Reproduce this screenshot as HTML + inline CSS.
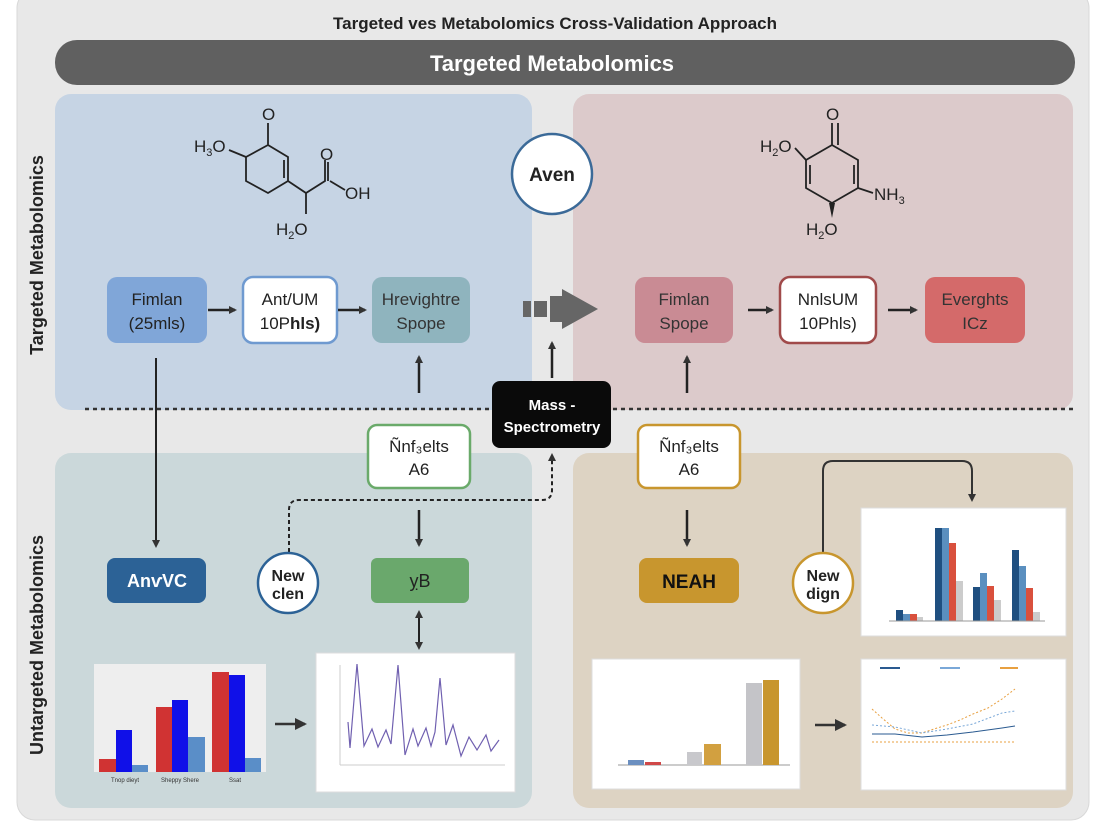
<!DOCTYPE html>
<html><head><meta charset="utf-8"><style>
html,body{margin:0;padding:0;background:#fff}
svg{display:block}
text{font-family:"Liberation Sans",sans-serif}
</style></head><body>
<svg width="1104" height="832" viewBox="0 0 1104 832" xmlns="http://www.w3.org/2000/svg">
<defs>
<marker id="ah" markerWidth="8" markerHeight="8" refX="6" refY="4" orient="auto" markerUnits="userSpaceOnUse"><path d="M0,0 L8,4 L0,8 z" fill="#333"/></marker>
<marker id="ah2" markerWidth="12" markerHeight="12" refX="10" refY="6" orient="auto" markerUnits="userSpaceOnUse"><path d="M0,0 L12,6 L0,12 z" fill="#333"/></marker>
</defs>
<rect x="0" y="0" width="1104" height="832" fill="#fff"/>
<rect x="17" y="-10" width="1072" height="830" rx="18" fill="#e8e8e8" stroke="#d8d8d8"/>
<text x="555" y="29" font-size="17" font-weight="bold" text-anchor="middle" fill="#222">Targeted ves Metabolomics Cross-Validation Approach</text>
<rect x="55" y="40" width="1020" height="45" rx="22" fill="#606060"/>
<text x="552" y="71" font-size="22" font-weight="bold" text-anchor="middle" fill="#fff">Targeted Metabolomics</text>

<rect x="55" y="94" width="477" height="316" rx="16" fill="#c6d4e4"/>
<rect x="573" y="94" width="500" height="316" rx="16" fill="#dccacb"/>
<rect x="55" y="453" width="477" height="355" rx="16" fill="#cbd8da"/>
<rect x="573" y="453" width="500" height="355" rx="16" fill="#ddd3c3"/>
<line x1="85" y1="409" x2="1073" y2="409" stroke="#333" stroke-width="2.5" stroke-dasharray="4,4"/>

<text transform="translate(43,255) rotate(-90)" font-size="18" font-weight="bold" text-anchor="middle" fill="#222">Targeted Metabolomics</text>
<text transform="translate(43,645) rotate(-90)" font-size="18" font-weight="bold" text-anchor="middle" fill="#222">Untargeted Metabolomics</text>

<!-- molecule left -->
<g stroke="#222" stroke-width="1.8" fill="none">
<path d="M268,123 L268,145 L288,157 L288,181 L268,193 L246,181 L246,157 L268,145"/>
<path d="M284,160 L284,178"/>
<path d="M288,181 L306,193 L325,181 L325,160"/>
<path d="M330,181 L345,190"/><path d="M328,162 L328,181"/>
<path d="M306,193 L306,214"/>
<path d="M229,150 L246,157"/>
</g>
<text x="262" y="120" font-size="17" fill="#222">O</text>
<text x="320" y="160" font-size="17" fill="#222">O</text>
<text x="345" y="199" font-size="17" fill="#222">OH</text>
<text x="194" y="152" font-size="17" fill="#222">H<tspan font-size="11" dy="4">3</tspan><tspan dy="-4">O</tspan></text>
<text x="276" y="235" font-size="17" fill="#222">H<tspan font-size="11" dy="4">2</tspan><tspan dy="-4">O</tspan></text>
<!-- molecule right -->
<g stroke="#222" stroke-width="1.8" fill="none">
<path d="M832,123 L832,145 L858,160 L858,188 L832,203 L806,188 L806,160 L832,145"/>
<path d="M838,123 L838,145"/>
<path d="M810,165 L810,184"/><path d="M854,165 L854,184"/>
<path d="M795,148 L806,160"/>
<path d="M858,188 L873,193"/>
</g>
<polygon points="829,203 835,203 832,218" fill="#222"/>
<text x="826" y="120" font-size="17" fill="#222">O</text>
<text x="760" y="152" font-size="17" fill="#222">H<tspan font-size="11" dy="4">2</tspan><tspan dy="-4">O</tspan></text>
<text x="874" y="200" font-size="17" fill="#222">NH<tspan font-size="11" dy="4">3</tspan></text>
<text x="806" y="235" font-size="17" fill="#222">H<tspan font-size="11" dy="4">2</tspan><tspan dy="-4">O</tspan></text>

<circle cx="552" cy="174" r="40" fill="#fff" stroke="#3b6a98" stroke-width="2.5"/>
<text x="552" y="181" font-size="19" font-weight="bold" text-anchor="middle" fill="#222">Aven</text>

<!-- top-left nodes -->
<rect x="107" y="277" width="100" height="66" rx="10" fill="#80a6d8"/>
<text x="157" y="305" font-size="17" text-anchor="middle" fill="#222">Fimlan</text>
<text x="157" y="329" font-size="17" text-anchor="middle" fill="#222">(25mls)</text>
<rect x="243" y="277" width="94" height="66" rx="10" fill="#fff" stroke="#6f9ad0" stroke-width="2.5"/>
<text x="290" y="305" font-size="17" text-anchor="middle" fill="#222">Ant/UM</text>
<text x="290" y="329" font-size="17" text-anchor="middle" fill="#222">10P<tspan font-weight="bold">hls)</tspan></text>
<rect x="372" y="277" width="98" height="66" rx="10" fill="#8fb4be"/>
<text x="421" y="305" font-size="17" text-anchor="middle" fill="#333">Hrevightre</text>
<text x="421" y="329" font-size="17" text-anchor="middle" fill="#333">Spope</text>
<line x1="208" y1="310" x2="235" y2="310" stroke="#222" stroke-width="2.5" marker-end="url(#ah)"/>
<line x1="338" y1="310" x2="365" y2="310" stroke="#222" stroke-width="2.5" marker-end="url(#ah)"/>

<!-- big arrow -->
<rect x="523" y="301" width="8" height="16" fill="#666"/>
<rect x="534" y="301" width="13" height="16" fill="#666"/>
<polygon points="550,296 562,296 562,289 598,309 562,329 562,322 550,322" fill="#666"/>

<!-- top-right nodes -->
<rect x="635" y="277" width="98" height="66" rx="10" fill="#c98b94"/>
<text x="684" y="305" font-size="17" text-anchor="middle" fill="#333">Fimlan</text>
<text x="684" y="329" font-size="17" text-anchor="middle" fill="#333">Spope</text>
<rect x="780" y="277" width="96" height="66" rx="10" fill="#fff" stroke="#a04a4a" stroke-width="2.5"/>
<text x="828" y="305" font-size="17" text-anchor="middle" fill="#222">NnlsUM</text>
<text x="828" y="329" font-size="17" text-anchor="middle" fill="#222">10Phls)</text>
<rect x="925" y="277" width="100" height="66" rx="10" fill="#d46a6a"/>
<text x="975" y="305" font-size="17" text-anchor="middle" fill="#333">Everghts</text>
<text x="975" y="329" font-size="17" text-anchor="middle" fill="#333">ICz</text>
<line x1="748" y1="310" x2="772" y2="310" stroke="#222" stroke-width="2.5" marker-end="url(#ah)"/>
<line x1="888" y1="310" x2="916" y2="310" stroke="#222" stroke-width="2.5" marker-end="url(#ah)"/>

<!-- vertical arrows -->
<line x1="552" y1="378" x2="552" y2="343" stroke="#222" stroke-width="2.5" marker-end="url(#ah)"/>
<line x1="419" y1="393" x2="419" y2="357" stroke="#222" stroke-width="2.5" marker-end="url(#ah)"/>
<line x1="687" y1="393" x2="687" y2="357" stroke="#222" stroke-width="2.5" marker-end="url(#ah)"/>

<rect x="492" y="381" width="119" height="67" rx="8" fill="#0a0a0a"/>
<text x="552" y="410" font-size="15" font-weight="bold" text-anchor="middle" fill="#fff">Mass -</text>
<text x="552" y="432" font-size="15" font-weight="bold" text-anchor="middle" fill="#fff">Spectrometry</text>

<rect x="368" y="425" width="102" height="63" rx="9" fill="#fff" stroke="#6aaa6a" stroke-width="2.5"/>
<text x="419" y="452" font-size="17" text-anchor="middle" fill="#222">Ñnf₃elts</text>
<text x="419" y="475" font-size="17" text-anchor="middle" fill="#222">A6</text>
<rect x="638" y="425" width="102" height="63" rx="9" fill="#fff" stroke="#c8962e" stroke-width="2.5"/>
<text x="689" y="452" font-size="17" text-anchor="middle" fill="#222">Ñnf₃elts</text>
<text x="689" y="475" font-size="17" text-anchor="middle" fill="#222">A6</text>

<line x1="419" y1="510" x2="419" y2="545" stroke="#222" stroke-width="2.5" marker-end="url(#ah)"/>
<line x1="687" y1="510" x2="687" y2="545" stroke="#222" stroke-width="2.5" marker-end="url(#ah)"/>
<line x1="156" y1="358" x2="156" y2="546" stroke="#222" stroke-width="2" marker-end="url(#ah)"/>

<!-- dashed path -->
<path d="M289,552 L289,510 Q289,500 299,500 L542,500 Q552,500 552,490 L552,455" fill="none" stroke="#222" stroke-width="2" stroke-dasharray="4,3" marker-end="url(#ah)"/>
<!-- right path -->
<path d="M823,553 L823,471 Q823,461 833,461 L962,461 Q972,461 972,471 L972,500" fill="none" stroke="#333" stroke-width="2" marker-end="url(#ah)"/>

<rect x="107" y="558" width="99" height="45" rx="8" fill="#2c6296"/>
<text x="157" y="587" font-size="18" font-weight="bold" text-anchor="middle" fill="#fff">AnⱱVC</text>
<circle cx="288" cy="583" r="30" fill="#fff" stroke="#2c6296" stroke-width="2.5"/>
<text x="288" y="581" font-size="16" font-weight="bold" text-anchor="middle" fill="#222">New</text>
<text x="288" y="599" font-size="16" font-weight="bold" text-anchor="middle" fill="#222">clen</text>
<rect x="371" y="558" width="98" height="45" rx="6" fill="#6aa86c"/>
<text x="420" y="587" font-size="18" text-anchor="middle" fill="#222">ỵB</text>
<line x1="419" y1="620" x2="419" y2="648" stroke="#222" stroke-width="2" marker-end="url(#ah)"/>
<line x1="419" y1="625" x2="419" y2="612" stroke="#222" stroke-width="2" marker-end="url(#ah)"/>

<rect x="639" y="558" width="100" height="45" rx="8" fill="#c8962e"/>
<text x="689" y="588" font-size="19" font-weight="bold" text-anchor="middle" fill="#111">NEAH</text>
<circle cx="823" cy="583" r="30" fill="#fff" stroke="#c8962e" stroke-width="2.5"/>
<text x="823" y="581" font-size="16" font-weight="bold" text-anchor="middle" fill="#222">New</text>
<text x="823" y="599" font-size="16" font-weight="bold" text-anchor="middle" fill="#222">dign</text>

<!-- bottom-left bar chart -->
<rect x="94" y="664" width="172" height="108" fill="#eeeeee"/>
<g>
<rect x="99" y="759" width="17" height="13" fill="#d03333"/><rect x="116" y="730" width="16" height="42" fill="#1010e8"/><rect x="132" y="765" width="16" height="7" fill="#5a8ec8"/>
<rect x="156" y="707" width="16" height="65" fill="#d03333"/><rect x="172" y="700" width="16" height="72" fill="#1010e8"/><rect x="188" y="737" width="17" height="35" fill="#5a8ec8"/>
<rect x="212" y="672" width="17" height="100" fill="#d03333"/><rect x="229" y="675" width="16" height="97" fill="#1010e8"/><rect x="245" y="758" width="16" height="14" fill="#5a8ec8"/>
</g>
<text x="125" y="782" font-size="6" text-anchor="middle" fill="#333">Tnop dieyt</text>
<text x="180" y="782" font-size="6" text-anchor="middle" fill="#333">Sheppy Shere</text>
<text x="235" y="782" font-size="6" text-anchor="middle" fill="#333">Ssat</text>
<line x1="275" y1="724" x2="305" y2="724" stroke="#333" stroke-width="2.5" marker-end="url(#ah2)"/>

<!-- line chart -->
<rect x="316" y="653" width="199" height="139" fill="#fff" stroke="#ddd"/>
<polyline points="348,722 350,748 357,664 364,746 372,729 378,747 386,730 391,744 398,665 405,755 413,729 418,746 426,728 431,746 435,732 440,678 446,745 453,725 461,756 469,737 477,750 486,735 491,751 499,740" fill="none" stroke="#7060b0" stroke-width="1.2"/>
<line x1="340" y1="665" x2="340" y2="765" stroke="#ccc"/>
<line x1="340" y1="765" x2="505" y2="765" stroke="#ccc"/>

<!-- right top bar chart -->
<rect x="861" y="508" width="205" height="128" fill="#fff" stroke="#ddd"/>
<g>
<rect x="896" y="610" width="7" height="11" fill="#1f4f80"/><rect x="903" y="614" width="7" height="7" fill="#5a8fbf"/><rect x="910" y="614" width="7" height="7" fill="#d9503d"/><rect x="917" y="617" width="6" height="4" fill="#ccc"/>
<rect x="935" y="528" width="7" height="93" fill="#1f4f80"/><rect x="942" y="528" width="7" height="93" fill="#5a8fbf"/><rect x="949" y="543" width="7" height="78" fill="#d9503d"/><rect x="956" y="581" width="7" height="40" fill="#ccc"/>
<rect x="973" y="587" width="7" height="34" fill="#1f4f80"/><rect x="980" y="573" width="7" height="48" fill="#5a8fbf"/><rect x="987" y="586" width="7" height="35" fill="#d9503d"/><rect x="994" y="600" width="7" height="21" fill="#ccc"/>
<rect x="1012" y="550" width="7" height="71" fill="#1f4f80"/><rect x="1019" y="566" width="7" height="55" fill="#5a8fbf"/><rect x="1026" y="588" width="7" height="33" fill="#d9503d"/><rect x="1033" y="612" width="7" height="9" fill="#ccc"/>
</g>
<line x1="889" y1="621" x2="1045" y2="621" stroke="#999"/>

<!-- right bottom bar chart -->
<rect x="592" y="659" width="208" height="130" fill="#fff" stroke="#ddd"/>
<line x1="618" y1="765" x2="790" y2="765" stroke="#999"/>
<rect x="628" y="760" width="16" height="5" fill="#6b8fc0"/><rect x="645" y="762" width="16" height="3" fill="#d04848"/>
<rect x="687" y="752" width="15" height="13" fill="#c8c8cc"/><rect x="704" y="744" width="17" height="21" fill="#d2a040"/>
<rect x="746" y="683" width="16" height="82" fill="#c4c4c8"/><rect x="763" y="680" width="16" height="85" fill="#c8962e"/>
<line x1="815" y1="725" x2="845" y2="725" stroke="#333" stroke-width="2.5" marker-end="url(#ah2)"/>

<!-- right bottom line chart -->
<rect x="861" y="659" width="205" height="131" fill="#fff" stroke="#ddd"/>
<polyline points="872,709 882,718 895,729 908,733 922,733 934,729 947,725 960,720 973,714 988,708 1002,699 1015,689" fill="none" stroke="#e8a040" stroke-width="1" stroke-dasharray="2,2"/>
<polyline points="872,725 895,727 922,733 947,729 973,724 1002,713 1015,711" fill="none" stroke="#7aa8d8" stroke-width="1" stroke-dasharray="2,2"/>
<polyline points="872,734 895,734 922,737 947,735 973,732 1002,728 1015,726" fill="none" stroke="#2a5a90" stroke-width="1"/>
<polyline points="872,742 1015,742" fill="none" stroke="#e8a040" stroke-width="1" stroke-dasharray="2,2"/>
<line x1="880" y1="668" x2="900" y2="668" stroke="#2a5a90" stroke-width="2"/><line x1="940" y1="668" x2="960" y2="668" stroke="#7aa8d8" stroke-width="2"/><line x1="1000" y1="668" x2="1018" y2="668" stroke="#e8a040" stroke-width="2"/>
</svg>
</body></html>
